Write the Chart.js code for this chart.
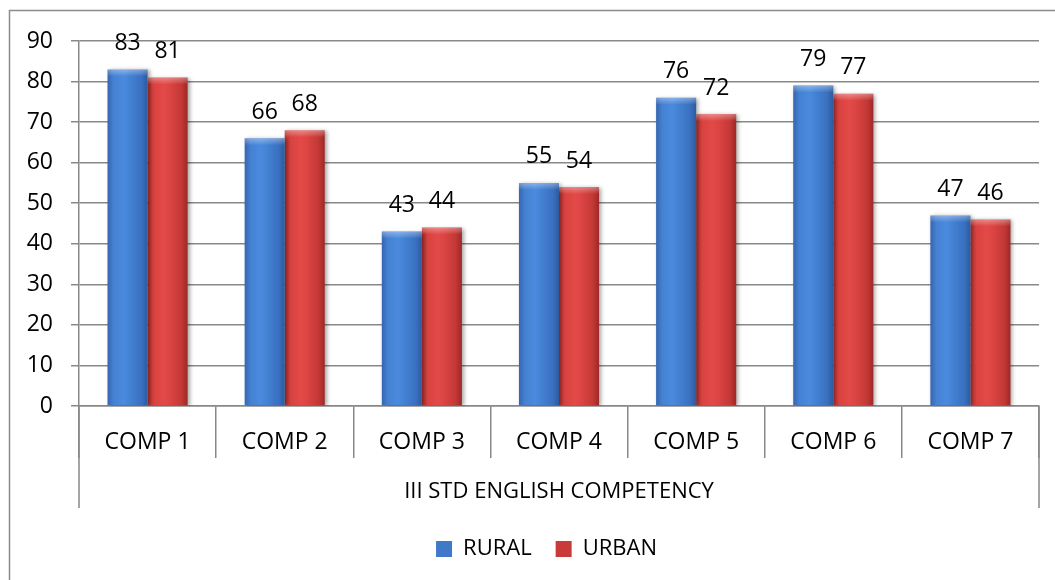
<!DOCTYPE html>
<html>
<head>
<meta charset="utf-8">
<script src="https://cdn.jsdelivr.net/npm/chart.js@4"></script>
<style>
html,body{margin:0;padding:0;background:#fff;}
#wrap{width:1055px;height:580px;position:relative;}
</style>
</head>
<body>
<div id="wrap"><canvas id="c" width="1055" height="580"></canvas></div>
<script>
const categories = ['COMP 1','COMP 2','COMP 3','COMP 4','COMP 5','COMP 6','COMP 7'];
const rural = [83, 66, 43, 55, 76, 79, 47];
const urban = [81, 68, 44, 54, 72, 77, 46];
const yTicks = [0,10,20,30,40,50,60,70,80,90];
const groupLabel = 'III STD ENGLISH COMPETENCY';
const seriesNames = ['RURAL','URBAN'];

const FONT = "'Open Sans', 'Noto Sans', sans-serif";
const GRID = '#888888';

const gradStops = [
  [[0,'#3565b0'],[0.15,'#4581d2'],[0.4,'#4b8ade'],[0.55,'#4482d4'],[0.85,'#3a70c0'],[1,'#2d5a9e']],
  [[0,'#b83230'],[0.15,'#d8423f'],[0.4,'#e24a48'],[0.55,'#dc4543'],[0.85,'#c23835'],[1,'#9e2826']]
];

const shadingPlugin = {
  id:'shading',
  beforeDatasetsDraw(chart){
    const ctx = chart.ctx;
    chart.data.datasets.forEach((ds,di)=>{
      const meta = chart.getDatasetMeta(di);
      meta.data.forEach(el=>{
        const l = el.x - el.width/2, r = el.x + el.width/2;
        const g = ctx.createLinearGradient(l,0,r,0);
        gradStops[di].forEach(s=>g.addColorStop(s[0],s[1]));
        el.options.backgroundColor = g;
      });
    });
    ctx.save();
    ctx.shadowColor = 'rgba(0,0,0,0.35)';
    ctx.shadowBlur = 4;
    ctx.shadowOffsetX = 2;
    ctx.shadowOffsetY = 1;
  },
  afterDatasetsDraw(chart){
    const ctx = chart.ctx;
    ctx.restore();
    chart.data.datasets.forEach((ds,di)=>{
      const meta = chart.getDatasetMeta(di);
      meta.data.forEach(el=>{
        const l = el.x - el.width/2;
        const g = ctx.createLinearGradient(0,el.y,0,el.y+7);
        g.addColorStop(0,'rgba(255,255,255,0.35)');
        g.addColorStop(1,'rgba(255,255,255,0)');
        ctx.fillStyle = g;
        ctx.fillRect(l, el.y, el.width, 7);
      });
    });
    ctx.save();
    ctx.font = '23px ' + FONT;
    ctx.fillStyle = '#000';
    ctx.textAlign = 'center';
    ctx.textBaseline = 'middle';
    chart.data.datasets.forEach((ds,di)=>{
      const meta = chart.getDatasetMeta(di);
      meta.data.forEach((el,i)=>{
        ctx.fillText(String(ds.data[i]), el.x, el.y - 26);
      });
    });
    ctx.restore();
  }
};

const framePlugin = {
  id:'frame',
  afterLayout(chart){
    const lg = chart.legend;
    if (lg) { lg.left += 54; if (lg.adjustHitBoxes) lg.adjustHitBoxes(); }
  },
  beforeDraw(chart){
    const ctx = chart.ctx;
    ctx.save();
    ctx.strokeStyle = '#8c8c8c';
    ctx.lineWidth = 1.5;
    ctx.strokeRect(9.5, 10.5, 1100, 1000);
    ctx.restore();
  },
  afterDraw(chart){
    const ctx = chart.ctx;
    const a = chart.chartArea;
    ctx.save();
    ctx.strokeStyle = GRID;
    ctx.lineWidth = 1.5;
    ctx.beginPath();
    ctx.moveTo(a.left, a.bottom); ctx.lineTo(a.left, a.bottom + 102);
    ctx.moveTo(a.right, a.bottom); ctx.lineTo(a.right, a.bottom + 102);
    ctx.stroke();
    ctx.restore();
  }
};

new Chart(document.getElementById('c'), {
  type:'bar',
  data:{
    labels: categories,
    datasets:[
      {label: seriesNames[0], data: rural, backgroundColor: ()=> '#4a86d6', borderWidth:0,
       categoryPercentage:0.584, barPercentage:1},
      {label: seriesNames[1], data: urban, backgroundColor: ()=> '#d8423f', borderWidth:0,
       categoryPercentage:0.584, barPercentage:1}
    ]
  },
  options:{
    responsive:false,
    animation:false,
    devicePixelRatio:1,
    layout:{padding:{top:41,right:16,left:0,bottom:10}},
    plugins:{
      tooltip:{enabled:false},
      legend:{
        position:'bottom',
        labels:{
          font:{family:FONT,size:22},
          color:'#000',
          boxWidth:16, boxHeight:16,
          padding:24,
          generateLabels(chart){
            return chart.data.datasets.map((ds,i)=>({
              text: ds.label,
              fillStyle: i===0 ? '#3f79c8' : '#c93b38',
              strokeStyle: 'rgba(0,0,0,0)',
              lineWidth:0,
              datasetIndex:i,
              hidden:false
            }));
          }
        }
      }
    },
    scales:{
      x:{
        grid:{display:true, drawOnChartArea:false, drawTicks:true, tickLength:52, color:GRID, lineWidth:1.5, offset:true},
        border:{display:true, color:GRID, width:1.5},
        ticks:{font:{family:FONT,size:23}, color:'#000', padding:-29, maxRotation:0},
        title:{display:true, text:groupLabel, font:{family:FONT,size:22}, color:'#000', padding:{top:0,bottom:9}},
        afterFit(scale){ scale.height = 108; }
      },
      y:{
        min:0, max:90,
        afterBuildTicks(scale){ scale.ticks = yTicks.map(v=>({value:v})); },
        grid:{color:GRID, lineWidth:1.5, drawTicks:true, tickLength:8},
        border:{display:true, color:GRID, width:1.5},
        ticks:{font:{family:FONT,size:23}, color:'#000', padding:18},
        afterFit(scale){ scale.width = 79; }
      }
    }
  },
  plugins:[framePlugin, shadingPlugin]
});
</script>
</body>
</html>
